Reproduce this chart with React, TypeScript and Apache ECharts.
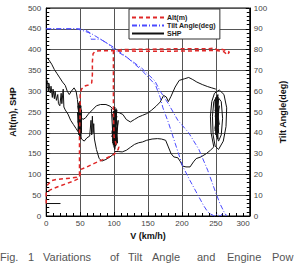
import React, { useEffect, useRef } from "react";
import * as echarts from "echarts";

// ---- axis ranges / labels ----
const speedMax = 300;
const altMax = 500;
const tiltMax = 100;
const legendNames = ["Alt(m)", "Tilt Angle(deg)", "SHP"];
const captionWords = ["Fig.", "1", "Variations", "of", "Tilt", "Angle", "and", "Engine", "Pow"];
const captionX = [0, 28, 43, 110, 128, 152, 197, 227, 272];

// ---- Alt(m) [V, alt] ----
const altA: number[][] = [
  [0, 30], [0, 58], [10, 66], [20, 72], [30, 78], [40, 84], [48, 90], [50, 100], [51, 112],
  [60, 118], [70, 126], [80, 133], [90, 140], [100, 148], [106, 160], [107, 166], [103, 172],
  [100, 190], [99, 260], [99, 330], [99, 395], [110, 400], [150, 401], [200, 402], [240, 402],
  [248, 404], [252, 399], [256, 402], [265, 398], [270, 394], [268, 390],
];
const altB: number[][] = [
  [265, 390], [262, 395], [250, 398], [220, 397], [180, 396], [140, 396], [100, 397], [80, 397],
  [72, 396], [69, 390], [68, 370], [68, 340], [67, 320], [62, 315], [56, 312], [52, 305],
  [50, 295], [50, 250], [49, 200], [49, 150], [49, 100], [48, 97], [45, 93], [30, 90],
  [15, 88], [8, 85], [2, 75], [0, 66],
];

// ---- Tilt Angle(deg) [V, deg] ----
const tiltL: number[][] = [
  [0, 90], [40, 90], [50, 90], [60, 89], [70, 87], [80, 85], [90, 83], [100, 80], [120, 76],
  [141, 70], [161, 63], [168, 57], [172, 52], [180, 45], [190, 35], [201, 24], [212, 17],
  [222, 11], [232, 5], [238, 2], [242, 1], [248, 0], [252, 1], [256, 0], [260, 1], [262, 0],
];
const tiltR: number[][] = [
  [0, 90], [45, 90], [55, 89], [64, 88], [66, 85], [80, 85], [90, 83], [100, 81], [120, 76],
  [141, 71], [160, 65], [168, 60], [180, 54], [194, 46], [210, 40], [225, 32], [238, 22],
  [249, 12], [256, 6], [262, 2], [266, 0],
];

// ---- SHP [V, shp] ----
const shpLow: number[][] = [[0, 30], [21, 30]];
const shpUpperLeft: number[][] = [
  [0, 382], [4, 375], [8, 365], [12, 352], [16, 342], [20, 332], [24, 322], [28, 314],
  [31, 300], [34, 292], [37, 300], [41, 308], [44, 300], [46, 280], [47, 262], [48, 250],
];
const shpLowerLeft: number[][] = [
  [0, 330], [2, 322], [3, 300], [4, 318], [6, 296], [7, 312], [9, 285], [10, 305], [12, 282],
  [13, 300], [15, 278], [17, 292], [18, 270], [20, 265], [22, 295], [23, 270], [25, 305],
  [26, 262], [28, 255], [32, 245], [36, 230], [40, 220], [44, 210], [48, 200],
];
const shpBlob50: number[][] = [
  [46, 250], [48, 195], [49, 270], [50, 190], [51, 265], [48, 205], [50, 275], [52, 200],
  [49, 260], [51, 185], [52, 255], [49, 210], [47, 265], [50, 195], [48, 272], [51, 200],
  [49, 250], [47, 205], [50, 268], [52, 215], [48, 240], [50, 188], [51, 258], [47, 225],
  [49, 275], [52, 230], [48, 198], [50, 250], [49, 220], [51, 245], [50, 240],
];
const shpMidUpper: number[][] = [
  [50, 240], [54, 232], [58, 236], [62, 245], [68, 255], [74, 265], [80, 268], [88, 268],
  [94, 264], [98, 258],
];
const shpBlob100: number[][] = [
  [96, 258], [99, 170], [101, 262], [98, 180], [103, 250], [100, 165], [104, 255], [97, 190],
  [102, 240], [105, 175], [100, 250], [103, 170], [106, 230], [101, 160], [99, 220], [104, 200],
  [98, 245], [102, 168], [100, 235], [97, 200], [103, 258], [101, 178], [99, 252], [104, 185],
  [100, 205], [102, 250], [98, 175], [105, 215], [101, 240], [99, 185], [103, 232], [100, 172],
  [102, 255], [98, 210], [104, 240], [100, 190], [103, 250],
];
const shpMidLower: number[][] = [
  [49, 195], [52, 185], [56, 180], [60, 188], [64, 192], [66, 230], [67, 195], [68, 240],
  [69, 200], [70, 222], [71, 185], [74, 160], [78, 138], [82, 132], [88, 136], [94, 142],
  [100, 150],
];
const shpRightUpper: number[][] = [
  [103, 250], [108, 248], [113, 244], [118, 232], [124, 226], [130, 232], [136, 238],
  [142, 242], [148, 246], [155, 254], [162, 264], [168, 274], [173, 290], [177, 286],
  [180, 275], [184, 288], [190, 310], [196, 326], [204, 330], [210, 333], [216, 328],
  [222, 322], [230, 316], [238, 311], [244, 308], [250, 305],
];
const shpRightLower: number[][] = [
  [101, 155], [106, 155], [112, 154], [118, 158], [124, 165], [130, 172], [136, 176],
  [142, 178], [148, 182], [156, 185], [164, 186], [170, 185], [176, 182], [180, 166],
  [184, 150], [188, 142], [194, 140], [198, 130], [201, 120], [206, 118], [212, 118],
  [217, 130], [221, 138], [228, 142], [236, 150], [242, 158], [247, 166],
];
const shpBlob250: number[][] = [
  [247, 166], [243, 200], [242, 240], [244, 275], [248, 295], [255, 303], [262, 292],
  [266, 260], [265, 215], [261, 180], [254, 160], [249, 168], [246, 195], [245, 240],
  [247, 275], [252, 288], [258, 275], [260, 235], [258, 195], [254, 180], [250, 200],
  [249, 280], [251, 190], [252, 290], [253, 185], [250, 285], [254, 200], [251, 270],
  [255, 220], [249, 240], [253, 260], [250, 195], [254, 282], [249, 210], [252, 278],
  [251, 192], [255, 265], [250, 225], [253, 292], [249, 205], [254, 250], [251, 285],
  [252, 198], [250, 265], [254, 215], [249, 255], [253, 230], [251, 275], [250, 215],
  [253, 245],
];

const RED = "#e02828";
const BLUE = "#4a4aff";
const BLACK = "#111111";

export default function App() {
  const ref = useRef<HTMLDivElement>(null);

  useEffect(() => {
    document.body.style.margin = "0";
    if (!ref.current) return;
    const chart = echarts.init(ref.current, undefined, { renderer: "svg" });

    const mk = (name: string, data: number[][], yAxisIndex: number, lineStyle: any, z: number) => ({
      type: "line",
      name,
      data,
      yAxisIndex,
      symbol: "none",
      silent: true,
      z,
      lineStyle,
      itemStyle: { color: lineStyle.color, opacity: 0 },
    });
    const shpStyle = { color: BLACK, width: 1, type: "solid" };
    const tiltStyle = { color: BLUE, width: 1, type: [5, 2, 1, 2] };
    const altStyle = { color: RED, width: 1.5, type: [4, 3] };

    const series = [
      mk("SHP", shpUpperLeft, 0, shpStyle, 2),
      mk("SHP", shpLow, 0, shpStyle, 2),
      mk("SHP", shpLowerLeft, 0, shpStyle, 2),
      mk("SHP", shpBlob50, 0, shpStyle, 2),
      mk("SHP", shpMidUpper, 0, shpStyle, 2),
      mk("SHP", shpBlob100, 0, shpStyle, 2),
      mk("SHP", shpMidLower, 0, shpStyle, 2),
      mk("SHP", shpRightUpper, 0, shpStyle, 2),
      mk("SHP", shpRightLower, 0, shpStyle, 2),
      mk("SHP", shpBlob250, 0, shpStyle, 2),
      mk("Tilt Angle(deg)", tiltL, 1, tiltStyle, 3),
      mk("Tilt Angle(deg)", tiltR, 1, tiltStyle, 3),
      mk("Alt(m)", altA, 0, altStyle, 4),
      mk("Alt(m)", altB, 0, altStyle, 4),
    ];

    const labelStyle = { color: "#444", fontSize: 8, fontFamily: "Liberation Sans, Arial, sans-serif" };
    const nameStyle = { color: "#111", fontSize: 9, fontWeight: "bold", fontFamily: "Liberation Sans, Arial, sans-serif" };

    chart.setOption({
      animation: false,
      grid: { left: 40, right: 29, top: 8, bottom: 48, show: true, borderColor: "#000", borderWidth: 1, backgroundColor: "transparent" },
      legend: {
        data: legendNames,
        orient: "vertical",
        left: 129,
        top: 9,
        padding: [5, 4, 2, 2],
        itemGap: 1,
        itemWidth: 32,
        itemHeight: 7,
        backgroundColor: "#fff",
        borderColor: "#333",
        borderWidth: 1,
        borderRadius: 0,
        selectedMode: false,
        itemStyle: { opacity: 0 },
        textStyle: { fontSize: 7, fontWeight: "bold", color: "#222", fontFamily: "Liberation Sans, Arial, sans-serif", padding: [0, 0, 0, -2] },
      },
      xAxis: {
        type: "value",
        min: 0,
        max: speedMax,
        interval: 50,
        name: "V (km/h)",
        nameLocation: "middle",
        nameGap: 11,
        nameTextStyle: nameStyle,
        axisLine: { lineStyle: { color: "#000", width: 1 } },
        axisTick: { inside: true, length: 4, lineStyle: { color: "#000" } },
        minorTick: { show: true, splitNumber: 5, length: 3, lineStyle: { color: "#000" } },
        axisLabel: { ...labelStyle, margin: 3, alignMaxLabel: "right" },
        splitLine: { show: true, lineStyle: { color: "#555", width: 1 } },
      },
      yAxis: [
        {
          type: "value",
          min: 0,
          max: altMax,
          interval: 50,
          name: "Alt(m), SHP",
          nameLocation: "middle",
          nameGap: 26,
          nameTextStyle: nameStyle,
          axisLine: { show: true, lineStyle: { color: "#000", width: 1 } },
          axisTick: { show: true, inside: true, length: 4, lineStyle: { color: "#000" } },
          minorTick: { show: true, splitNumber: 5, length: 3, lineStyle: { color: "#000" } },
          axisLabel: { ...labelStyle, margin: 5 },
          splitLine: { show: true, lineStyle: { color: "#555", width: 1 } },
        },
        {
          type: "value",
          position: "right",
          min: 0,
          max: tiltMax,
          interval: 10,
          name: "Tilt Angle(deg)",
          nameLocation: "middle",
          nameGap: 19,
          nameRotate: 90,
          nameTextStyle: nameStyle,
          axisLine: { show: true, lineStyle: { color: "#000", width: 1 } },
          axisTick: { show: true, inside: true, length: 4, lineStyle: { color: "#000" } },
          minorTick: { show: true, splitNumber: 5, length: 3, lineStyle: { color: "#000" } },
          axisLabel: { ...labelStyle, margin: 4 },
          splitLine: { show: false },
        },
      ],
      graphic: captionWords.map((w, i) => ({
        type: "text",
        left: captionX[i],
        top: 251,
        silent: true,
        style: { text: w, fontSize: 11, fill: "#555", fontFamily: "Liberation Sans, Arial, sans-serif" },
      })),
      series,
    });

    return () => chart.dispose();
  }, []);

  return <div ref={ref} style={{ width: 295, height: 264 }} />;
}
